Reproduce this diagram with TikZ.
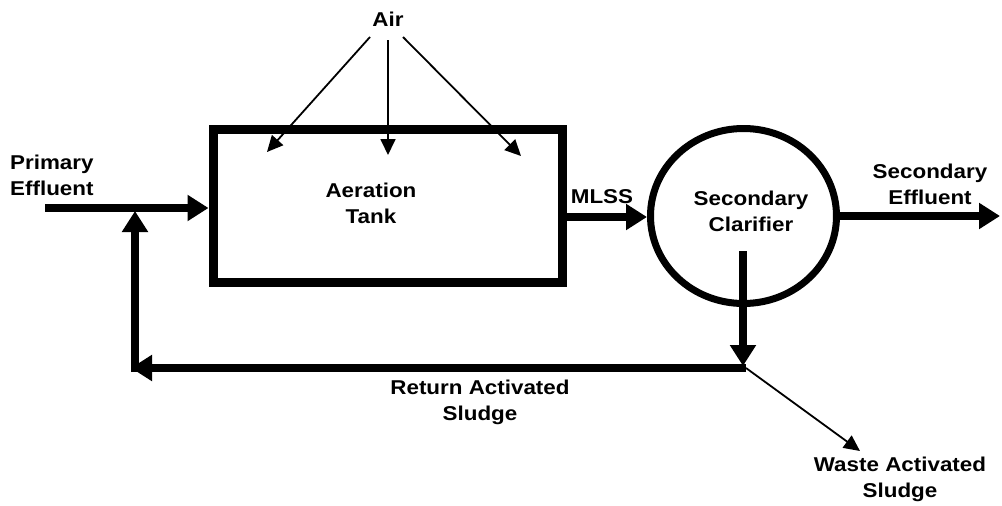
\documentclass[tikz,border=0pt]{standalone}
\usepackage{fontspec}
\setmainfont{Liberation Sans}[FakeStretch=1.12]
\usetikzlibrary{arrows.meta,shapes.geometric}
\begin{document}
\begin{tikzpicture}[x=1pt,y=-1pt,
  bigarrow/.style={line width=8pt,-{Triangle[length=21pt,width=25pt]}},
  thinarrow/.style={line width=1.8pt,-{Triangle[length=16pt,width=15pt]}},
  lbl/.style={font=\fontsize{20}{26}\selectfont\bfseries, align=center, inner sep=0pt}]
\useasboundingbox (0,0) rectangle (1002,506);
% vessels
\node[draw, line width=9pt, minimum width=349pt, minimum height=153pt, inner sep=0pt] (tank) at (387.5,205.5) {};
\node[draw, ellipse, line width=7pt, minimum width=186pt, minimum height=175pt, inner sep=0pt] (clar) at (743.5,216) {};
% labels
\node[lbl] (air) at (388,19) {Air};
\node[lbl, anchor=west, align=left] (prim) at (10,175) {Primary\\Effluent};
\node[lbl] (tanklbl) at (371,203) {Aeration\\Tank};
\node[lbl] (mlss) at (602,197) {MLSS};
\node[lbl] (clarlbl) at (751,211) {Secondary\\Clarifier};
\node[lbl] (seceff) at (930,184) {Secondary\\Effluent};
\node[lbl] (ras) at (480,402) {Return Activated\\Sludge};
\node[lbl] (was) at (900,479) {Waste Activated\\Sludge};
% coordinates
\coordinate (pin) at (45,208);
\coordinate (jin) at (135,211);
\coordinate (rbot) at (135,372);
\coordinate (rtip) at (131,368);
\coordinate (jret) at (746,368);
\coordinate (drop) at (743,251);
\coordinate (dtip) at (743,366);
\coordinate (mlsstail) at (567,217);
\coordinate (outtip) at (1000,216);
\coordinate (wastetip) at (860,451);
\coordinate (a1s) at (370,37);
\coordinate (a1e) at (267,152);
\coordinate (a2s) at (388,40);
\coordinate (a2e) at (388,155);
\coordinate (a3s) at (403,37);
\coordinate (a3e) at (521,156);
% connectors
\draw[bigarrow] (pin) -- (pin -| tank.west);
\draw[bigarrow] (mlsstail) -- (mlsstail -| clar.west);
\draw[bigarrow] (clar.east) -- (outtip);
\draw[bigarrow] (drop) -- (dtip);
\draw[bigarrow] (jret) -- (rtip);
\draw[bigarrow] (rbot) -- (jin);
\draw[thinarrow] (jret) -- (wastetip);
\draw[thinarrow] (a1s) -- (a1e);
\draw[thinarrow] (a2s) -- (a2e);
\draw[thinarrow] (a3s) -- (a3e);
\end{tikzpicture}
\end{document}
